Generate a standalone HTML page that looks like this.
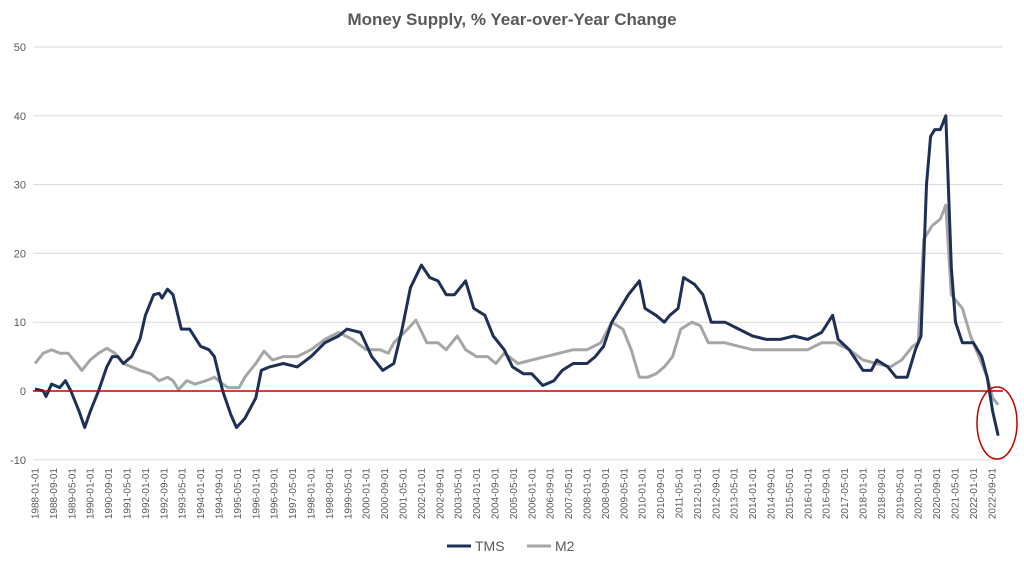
<!DOCTYPE html>
<html><head><meta charset="utf-8"><style>
html,body{margin:0;padding:0;background:#fff;width:1024px;height:563px;overflow:hidden;font-family:"Liberation Sans",sans-serif}
</style></head><body>
<svg id="s" width="1024" height="563" xmlns="http://www.w3.org/2000/svg" font-family="Liberation Sans, sans-serif">
<text x="512" y="25" text-anchor="middle" font-size="17" font-weight="bold" fill="#595959">Money Supply, % Year-over-Year Change</text>
<g id="grid" stroke="#d9d9d9" stroke-width="1"></g>
<g id="yl" font-size="11" fill="#595959" text-anchor="end"></g>
<g id="xl" font-size="10" fill="#595959"></g>
<path id="m2" fill="none" stroke="#a6a6a6" stroke-width="3" stroke-linejoin="round"/>
<path id="tms" fill="none" stroke="#1f3056" stroke-width="3" stroke-linejoin="round"/>
<line x1="33" y1="391" x2="1003" y2="391" stroke="#c00000" stroke-width="1.5"/>
<ellipse cx="997" cy="423" rx="20" ry="36" fill="none" stroke="#c00000" stroke-width="1.5"/>
<line x1="447" y1="546" x2="471" y2="546" stroke="#1f3056" stroke-width="3"/>
<text x="475" y="551" font-size="14" fill="#595959">TMS</text>
<line x1="527" y1="546" x2="551" y2="546" stroke="#a6a6a6" stroke-width="3"/>
<text x="555" y="551" font-size="14" fill="#595959">M2</text>
</svg>
<script>
var NS="http://www.w3.org/2000/svg";
function Y(v){return 391-v*6.88;}
function X(t){return 35+(t-1988)*12*2.3;}
var g=document.getElementById('grid'),yl=document.getElementById('yl'),xl=document.getElementById('xl');
for(var v=-10;v<=50;v+=10){var l=document.createElementNS(NS,'line');l.setAttribute('x1',33);l.setAttribute('x2',1003);l.setAttribute('y1',Y(v));l.setAttribute('y2',Y(v));g.appendChild(l);
var t=document.createElementNS(NS,'text');t.setAttribute('x',26);t.setAttribute('y',Y(v)+4);t.textContent=v;yl.appendChild(t);}
for(var i=0;i<=52;i++){var m=i*8,yr=1988+Math.floor(m/12),mo=m%12+1;var x=35+m*2.3;
var t=document.createElementNS(NS,'text');t.setAttribute('transform','translate('+(x+3.5)+',468) rotate(-90)');t.setAttribute('text-anchor','end');t.textContent=yr+'-'+(mo<10?'0':'')+mo+'-01';xl.appendChild(t);}
var tms=[1988.0,0.3,1988.3,0,1988.4,-0.8,1988.6,1,1988.9,0.5,1989.1,1.5,1989.3,0,1989.6,-3,1989.8,-5.3,1990.0,-3,1990.3,0,1990.6,3.5,1990.8,5,1991.0,5,1991.2,4,1991.5,5,1991.8,7.5,1992.0,11,1992.3,14,1992.5,14.2,1992.6,13.5,1992.8,14.8,1993.0,14,1993.3,9,1993.6,9,1994.0,6.5,1994.3,6,1994.5,5,1994.8,0,1995.1,-3.5,1995.3,-5.3,1995.6,-4,1996.0,-1,1996.2,3,1996.5,3.5,1997.0,4,1997.5,3.5,1998.0,5,1998.5,7,1999.0,8,1999.3,9,1999.8,8.5,2000.2,5,2000.6,3,2001.0,4,2001.3,9,2001.6,15,2002.0,18.3,2002.3,16.5,2002.6,16,2002.9,14,2003.2,14,2003.6,16,2003.9,12,2004.3,11,2004.6,8,2005.0,6,2005.3,3.5,2005.7,2.5,2006.0,2.5,2006.4,0.8,2006.8,1.5,2007.1,3,2007.5,4,2008.0,4,2008.3,5,2008.6,6.5,2008.9,10,2009.2,12,2009.5,14,2009.9,16,2010.1,12,2010.5,11,2010.8,10,2011.0,11,2011.3,12,2011.5,16.5,2011.9,15.5,2012.2,14,2012.5,10,2013.0,10,2013.5,9,2014.0,8,2014.5,7.5,2015.0,7.5,2015.5,8,2016.0,7.5,2016.5,8.5,2016.9,11,2017.1,7.5,2017.5,6,2018.0,3,2018.3,3,2018.5,4.5,2018.9,3.5,2019.2,2,2019.6,2,2019.9,6,2020.1,8,2020.3,30,2020.45,37,2020.6,38,2020.8,38,2021.0,40,2021.2,18,2021.35,10,2021.6,7,2022.0,7,2022.3,5,2022.5,2,2022.7,-3,2022.9,-6.5];
var m2=[1988.0,4,1988.3,5.5,1988.6,6,1988.9,5.5,1989.2,5.5,1989.5,4,1989.7,3,1990.0,4.5,1990.3,5.5,1990.6,6.2,1990.9,5.5,1991.2,4,1991.5,3.5,1991.8,3,1992.2,2.5,1992.5,1.5,1992.8,2,1993.0,1.5,1993.2,0.2,1993.5,1.5,1993.8,1,1994.2,1.5,1994.5,2,1994.8,1,1995.0,0.5,1995.4,0.5,1995.6,2,1996.0,4,1996.3,5.8,1996.6,4.5,1997.0,5,1997.5,5,1998.0,6,1998.5,7.5,1999.0,8.5,1999.5,7.5,2000.0,6,2000.5,6,2000.8,5.5,2001.0,7,2001.5,9,2001.8,10.3,2002.2,7,2002.6,7,2002.9,6,2003.3,8,2003.6,6,2004.0,5,2004.4,5,2004.7,4,2005.0,5.5,2005.5,4,2006.0,4.5,2006.5,5,2007.0,5.5,2007.5,6,2008.0,6,2008.5,7,2008.9,10,2009.3,9,2009.6,6,2009.9,2,2010.2,2,2010.5,2.5,2010.8,3.5,2011.1,5,2011.4,9,2011.8,10,2012.1,9.5,2012.4,7,2013.0,7,2013.5,6.5,2014.0,6,2015.0,6,2016.0,6,2016.5,7,2017.0,7,2017.5,6,2018.0,4.5,2018.5,4,2019.0,3.5,2019.4,4.5,2019.8,6.5,2020.0,7,2020.2,22,2020.5,24,2020.8,25,2021.0,27,2021.2,14,2021.4,13,2021.6,12,2021.9,8,2022.2,5,2022.5,2,2022.7,-1,2022.9,-2];
function path(a){var d='';for(var i=0;i<a.length;i+=2){d+=(i?'L':'M')+X(a[i]).toFixed(1)+','+Y(a[i+1]).toFixed(1);}return d;}
document.getElementById('tms').setAttribute('d',path(tms));
document.getElementById('m2').setAttribute('d',path(m2));
</script>
</body></html>
